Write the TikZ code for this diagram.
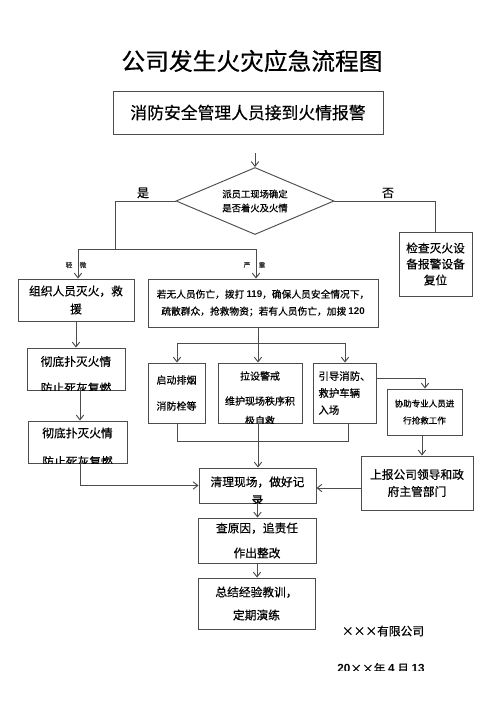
\documentclass[tikz,border=0pt]{standalone}
\usepackage{fontspec}
\setmainfont{Noto Sans CJK SC}[FakeBold=0.5]
\newfontfamily\latf{Liberation Sans}
\usetikzlibrary{shapes.geometric,arrows.meta,calc}
\begin{document}
\begin{tikzpicture}[x=0.75pt,y=-0.75pt,
  box/.style={draw=black!70, line width=0.7pt, rectangle, inner sep=0pt, align=center, text=black},
  sz/.style 2 args={minimum width=#1*0.75pt, minimum height=#2*0.75pt},
  arr/.style={draw=black!70, line width=0.7pt, -{Straight Barb[length=3.5pt,width=5.5pt]}},
  ln/.style={draw=black!70, line width=0.7pt},
  fB/.style={font=\fontsize{8.8pt}{10pt}\selectfont, inner sep=0pt, text=black},
  fS/.style={font=\fontsize{7.5pt}{9pt}\selectfont, inner sep=0pt, text=black},
  tinylbl/.style={font=\fontsize{5pt}{6pt}\selectfont, inner sep=0pt, text=black!80},
]
\useasboundingbox (0,0) rectangle (500,708);
\fill[white] (0,0) rectangle (500,708);

\node[font=\fontsize{17.8pt}{20pt}\selectfont, inner sep=0pt] (title) at (252,61) {公司发生火灾应急流程图};

\node[box, sz={270}{43}, font=\fontsize{12.6pt}{14pt}\selectfont] (b1) at (248,112.5) {消防安全管理人员接到火情报警};

\node[draw=black!70, line width=0.7pt, diamond, aspect=2.36, sz={158}{67}, inner sep=0pt, align=center, font=\fontsize{7pt}{10.5pt}\selectfont] (dia) at (255,201) {派员工现场确定\\是否着火及火情};

\node[box, sz={73}{64}, font=\fontsize{8.8pt}{12pt}\selectfont] (b3) at (435.5,264) {检查灭火设\\备报警设备\\复位};

\node[box, sz={116}{42}, font=\fontsize{8.8pt}{13.5pt}\selectfont] (b4) at (76,300) {组织人员灭火，救\\援};

\node[box, sz={230}{48}, font=\fontsize{7.3pt}{12.75pt}\selectfont] (b5) at (263,303) {若无人员伤亡，拨打 {\latf\bfseries 119}，确保人员安全情况下，\\疏散群众，抢救物资；若有人员伤亡，加拨 {\latf\bfseries 120}};

\node[box, sz={98}{42}] (b6) at (76,369) {};
\begin{scope}
\clip (b6.south west) rectangle (b6.north east);
\node[fB] (t6a) at (76,361.5) {彻底扑灭火情};
\node[fB] (t6b) at (76,388) {防止死灰复燃};
\end{scope}

\node[box, sz={99}{42}] (b7) at (77.5,442) {};
\begin{scope}
\clip (b7.south west) rectangle (b7.north east);
\node[fB] (t7a) at (77.5,433) {彻底扑灭火情};
\node[fB] (t7b) at (77.5,461.5) {防止死灰复燃};
\end{scope}

\node[box, sz={57}{60}, font=\fontsize{7.5pt}{19.5pt}\selectfont] (b8) at (176.5,393) {启动排烟\\消防栓等};

\node[box, sz={84}{60}] (b9) at (260,393) {};
\begin{scope}
\clip (b9.south west) rectangle (b9.north east);
\node[fS] (t9a) at (260,376) {拉设警戒};
\node[fS] (t9b) at (260,401) {维护现场秩序积};
\node[fS] (t9c) at (260,420.5) {极自救};
\end{scope}

\node[box, sz={63}{60}, align=left, font=\fontsize{7.8pt}{12.75pt}\selectfont] (b10) at (344.5,393) {引导消防、\\救护车辆\\入场};

\node[box, sz={75}{46}, font=\fontsize{6.4pt}{12.75pt}\selectfont] (b11) at (424.5,412) {协助专业人员进\\行抢救工作};

\node[box, sz={112}{54}, font=\fontsize{8.8pt}{12.75pt}\selectfont] (b12) at (417,483) {上报公司领导和政\\府主管部门};

\node[box, sz={117}{35}] (b13) at (257.5,485.5) {};
\begin{scope}
\clip (b13.south west) rectangle (b13.north east);
\node[fB] (t13a) at (257.5,482) {清理现场，做好记};
\node[fB] (t13b) at (257.5,500.5) {录};
\end{scope}

\node[box, sz={118}{45}, font=\fontsize{8.8pt}{18.75pt}\selectfont] (b14) at (257,540.5) {查原因，追责任\\作出整改};

\node[box, sz={117}{51}, font=\fontsize{8.8pt}{17.25pt}\selectfont] (b15) at (256.5,603.5) {总结经验教训，\\定期演练};

% labels
\node[font=\fontsize{9pt}{10pt}\selectfont, inner sep=0pt] (lyes) at (143,193) {是};
\node[font=\fontsize{9pt}{10pt}\selectfont, inner sep=0pt] (lno) at (388,193) {否};
\node[tinylbl] (q1) at (69,265) {轻};
\node[tinylbl] (q2) at (83,265) {微};
\node[tinylbl] (s1) at (247,265) {严};
\node[tinylbl] (s2) at (262,265) {重};

% connectors
\coordinate (a0) at (255,153);
\draw[arr] (a0) -- (dia.north);

\coordinate (yes) at (115,249);
\coordinate (sL) at (78,249);
\coordinate (sR) at (256,249);
\draw[ln] (dia.west) -| (yes);
\draw[ln] (sL) -- (sR);
\draw[arr] (sL) -- (sL |- b4.north);
\draw[arr] (sR) -- (sR |- b5.north);
\draw[ln] (dia.east) -| (b3.north);

\draw[arr] (b4.south) -- (b4.south |- b6.north);
\coordinate (l0) at (80,400);
\draw[arr] (b6.south -| l0) -- (l0 |- b7.north);

\coordinate (m1) at (258,343);
\coordinate (h1) at (177,343);
\coordinate (h3) at (345,343);
\draw[ln] (b5.south -| m1) -- (m1);
\draw[ln] (h1) -- (h3);
\draw[arr] (h1) -- (h1 |- b8.north);
\draw[arr] (m1) -- (m1 |- b9.north);
\draw[arr] (h3) -- (h3 |- b10.north);

\coordinate (k1) at (177,441);
\coordinate (k3) at (348,441);
\draw[ln] (k1 |- b8.south) -- (k1) -- (k3) -- (k3 |- b10.south);
\draw[arr] (m1 |- b9.south) -- (m1 |- b13.north);

\coordinate (r1) at (425,378);
\draw[arr] (b10.east |- r1) -- (r1) -- (r1 |- b11.north);
\coordinate (r2) at (422,446);
\draw[arr] (b11.south -| r2) -- (r2 |- b12.north);
\coordinate (r3) at (340,488);
\draw[arr] (b12.west |- r3) -- (b13.east |- r3);

\coordinate (l1) at (80,485.5);
\draw[arr] (b7.south -| l1) |- (b13.west);

\draw[arr] (b13.south) -- (b13.south |- b14.north);
\draw[arr] (b14.south) -- (b14.south |- b15.north);

% footer
\node[font=\fontsize{8.8pt}{10pt}\selectfont, inner sep=0pt] (co) at (383,631) {×××有限公司};
\begin{scope}
\clip (300,650) rectangle (450,670);
\node[font=\fontsize{8.8pt}{10pt}\selectfont, inner sep=0pt] (date) at (381,668.5) {{\latf\bfseries 20}××年 {\latf\bfseries 4} 月 {\latf\bfseries 13}};
\end{scope}
\end{tikzpicture}
\end{document}
